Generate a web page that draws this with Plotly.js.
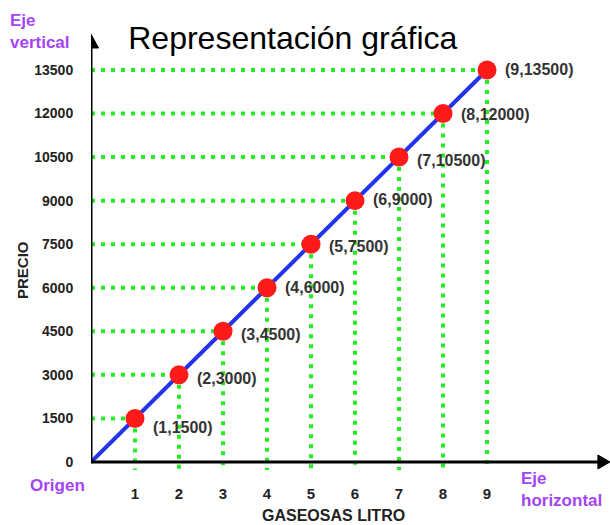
<!DOCTYPE html>
<html>
<head>
<meta charset="utf-8">
<script src="https://cdn.plot.ly/plotly-3.0.1.min.js"></script>
<style>html,body{margin:0;padding:0;background:#fff;}#chart{width:610px;height:525px;}</style>
</head>
<body>
<div id="chart"></div>
<script>
// Data
const litros = [1, 2, 3, 4, 5, 6, 7, 8, 9];
const precio = [1500, 3000, 4500, 6000, 7500, 9000, 10500, 12000, 13500];
const etiquetas = ["(1,1500)", "(2,3000)", "(3,4500)", "(4,6000)", "(5,7500)", "(6,9000)", "(7,10500)", "(8,12000)", "(9,13500)"];
const yTicks = [0, 1500, 3000, 4500, 6000, 7500, 9000, 10500, 12000, 13500];
const xTicks = [1, 2, 3, 4, 5, 6, 7, 8, 9];

// label vertical nudges (style only, px)
const labelShift = [-9, -4, -3, 0, -2, 1, -3, -1, 0];

const green = '#22ee22';
const dashPat = '4px,6px';
const yFloor = -275;

// guide lines built from data
const hx = [], hy = [], vx = [], vy = [];
litros.forEach((x, i) => {
  hx.push(0, x, null); hy.push(precio[i], precio[i], null);
  vx.push(x, x, null); vy.push(precio[i], yFloor, null);
});

const traces = [
  {x: hx, y: hy, mode: 'lines', line: {color: green, width: 4, dash: dashPat}, hoverinfo: 'skip', showlegend: false},
  {x: vx, y: vy, mode: 'lines', line: {color: green, width: 4, dash: dashPat}, hoverinfo: 'skip', showlegend: false},
  {x: [0].concat(litros), y: [0].concat(precio), mode: 'lines', line: {color: '#2233ee', width: 4}, showlegend: false},
  {x: litros, y: precio, mode: 'markers', marker: {color: '#ff1a1a', size: 19}, showlegend: false}
];

const purple = '#a445f5';
const labelFont = {family: 'Liberation Sans, Arial', size: 16, color: '#333', weight: 'bold'};
const annotations = etiquetas.map((t, i) => ({
  x: litros[i], y: precio[i], xref: 'x', yref: 'y', text: t, showarrow: false,
  xanchor: 'left', yanchor: 'middle', xshift: 16, yshift: labelShift[i],
  font: labelFont
}));
const purpleFont = {family: 'Liberation Sans, Arial', size: 17, color: purple, weight: 'bold'};
annotations.push(
  {xref: 'paper', yref: 'paper', x: -91/519, y: 1 + 21/445, xanchor: 'left', yanchor: 'top', align: 'left', text: 'Eje<br>vertical', showarrow: false, font: purpleFont, xshift: 8},
  {xref: 'paper', yref: 'paper', x: -63/519, y: -10/445, xanchor: 'left', yanchor: 'middle', text: 'Origen', showarrow: false, font: purpleFont},
  {xref: 'paper', yref: 'paper', x: 428/519, y: 8/445, xanchor: 'left', yanchor: 'top', align: 'left', text: 'Eje<br>horizontal', showarrow: false, font: purpleFont},
  {xref: 'paper', yref: 'paper', x: -69/519, y: 205/445, xanchor: 'center', yanchor: 'middle', textangle: -90, text: 'PRECIO', showarrow: false, font: {family: 'Liberation Sans, Arial', size: 15, color: '#222', weight: 'bold'}},
  {xref: 'paper', yref: 'paper', x: 242/519, y: -40/445, xanchor: 'center', yanchor: 'middle', text: 'GASEOSAS LITRO', showarrow: false, font: {family: 'Liberation Sans, Arial', size: 16, color: '#222', weight: 'bold'}}
);

const shapes = [
  {type: 'line', xref: 'x', yref: 'y', x0: 0, y0: 0, x1: 0, y1: 14300, line: {color: '#000', width: 3}, layer: 'above'},
  {type: 'path', xref: 'x', yref: 'y', path: 'M -0.17 14256 L 0 14738 L 0.17 14256 Z', fillcolor: '#000', line: {color: '#000', width: 1}, layer: 'above'},
  {type: 'line', xref: 'x', yref: 'y', x0: 0, y0: 0, x1: 11.55, y1: 0, line: {color: '#000', width: 3}, layer: 'above'},
  {type: 'path', xref: 'x', yref: 'y', path: 'M 11.52 241 L 11.795 0 L 11.52 -241 Z', fillcolor: '#000', line: {color: '#000', width: 1}, layer: 'above'}
];

const tickFont = {family: 'Liberation Sans, Arial', size: 14, color: '#222', weight: 'bold'};
const layout = {
  width: 610, height: 525,
  margin: {l: 91, r: 0, t: 30, b: 50},
  paper_bgcolor: '#fff', plot_bgcolor: '#fff',
  title: {text: 'Representación gráfica', x: 0.48, xanchor: 'center', y: 1 - 38/525, yanchor: 'middle', yref: 'container',
          font: {family: 'Liberation Sans, Arial', size: 32, color: '#000'}},
  xaxis: {range: [0, 11.795], tickvals: xTicks, ticktext: xTicks.map(String), showgrid: false, zeroline: false, showline: false,
          ticks: 'outside', ticklen: 5, tickcolor: 'rgba(0,0,0,0)', tickfont: Object.assign({}, tickFont, {size: 15}), fixedrange: true},
  yaxis: {range: [-448, 14876], tickvals: yTicks, ticktext: yTicks.map(String), showgrid: false, zeroline: false, showline: false,
          ticks: 'outside', ticklen: 14, tickcolor: 'rgba(0,0,0,0)', tickfont: tickFont, fixedrange: true},
  shapes: shapes,
  annotations: annotations,
  showlegend: false
};

Plotly.newPlot('chart', traces, layout, {displayModeBar: false, staticPlot: true});
</script>
</body>
</html>
